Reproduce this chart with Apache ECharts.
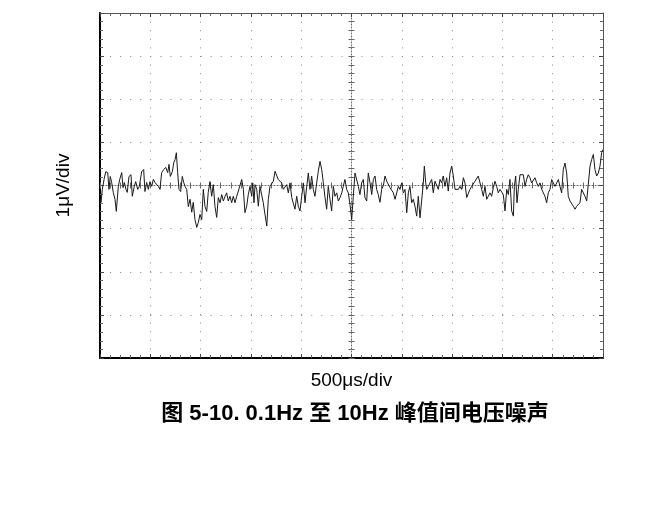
<!DOCTYPE html>
<html>
<head>
<meta charset="utf-8">
<script src="https://cdn.jsdelivr.net/npm/echarts@6/dist/echarts.min.js"></script>
<style>
html,body{margin:0;padding:0;background:#fff;}
#chart{width:663px;height:508px;}
</style>
</head>
<body>
<div id="chart"></div>
<script>
// Time (µs) of each sample, 500 µs per division
var timeUs = [5,10,23,40,57,77,89,102,116,132,149,162,182,196,216,229,242,258,271,288,308,321,341,355,375,391,414,434,447,464,480,497,514,530,547,564,580,596,613,633,653,673,686,699,719,733,746,759,772,785,802,818,832,845,862,878,895,912,927,944,962,977,994,1011,1027,1044,1061,1076,1093,1110,1126,1143,1160,1176,1193,1210,1226,
1243,1259,1275,1292,1309,1325,1342,1359,1375,1392,1409,1425,1441,1458,1474,1491,1508,1518,1531,1541,1558,1574,1590,1607,1623,1640,1658,1673,1690,1707,1723,1740,1756,1772,1789,1806,1822,1839,1856,1872,1889,1906,1922,1938,1955,1971,1988,2005,2021,2038,2055,2071,2087,2104,2120,2137,2154,2170,2187,2204,2220,2237,2253,2269,2286,2303,2319,2336,2353,2369,2386,2403,2418,2435,2452,2468,2485,2502,2518,2535,2552,2568,2584,2601,2617,2634,2651,2667,2684,2701,2717,2734,2750,2766,2783,2800,2817,2833,2850,2866,2883,2900,2916,2933,2950,2966,2982,2999,3015,3032,3049,3065,3081,3098,3114,3131,3148,3164,3181,3198,3214,3224,3238,3248,3263,3280,3297,3313,3330,3347,3363,3380,3396,3412,3429,3446,3462,3479,3496,3512,3529,3546,3562,3578,3595,3612,3628,3645,3661,3678,3695,3711,3728,3745,3760,3777,3794,3810,3827,3844,3860,3877,3893,3910,3926,3943,3959,3976,3993,4009,4026,4043,4059,4075,4092,4109,4119,4132,4145,4158,4175,4192,4208,4225,4241,4257,4274,4291,4307,4324,4341,4357,4374,4391,4406,4423,4440,4456,4473,4490,4506,4523,4540,4556,4572,4589,4605,4622,4639,4655,4672,4689,4705,4722,4739,4754,4771,4788,4804,4821,4838,4854,4871,4887,4904,4920,4937,4954,4970,4987,4997];
// Noise voltage (µV) of each sample, 1 µV per division
var noiseUv = [-0.32,-0.39,-0.09,0.14,0.32,0.30,-0.09,0.21,0.07,-0.16,-0.32,-0.60,-0.02,0.14,0.30,-0.05,0.07,-0.09,-0.16,0.21,0.25,-0.25,-0.02,0.09,-0.09,-0.02,0.32,0.37,-0.14,0.07,-0.09,0.09,-0.02,0.14,0.07,0.07,-0.02,-0.09,0.30,0.37,0.42,0.30,0.49,0.21,0.32,0.53,0.60,0.76,0.30,-0.09,-0.14,0.21,0.07,-0.02,-0.09,-0.49,-0.32,-0.62,-0.39,-0.79,-0.97,-0.86,-0.67,-0.79,-0.09,-0.49,-0.60,-0.16,0.09,-0.25,0.02,-0.49,-0.74,-0.28,-0.40,-0.21,-0.36,
-0.25,-0.17,-0.36,-0.25,-0.40,-0.25,-0.40,-0.25,-0.13,-0.09,0.14,-0.09,-0.63,-0.48,-0.21,-0.02,-0.25,0.06,-0.40,0.02,-0.09,-0.48,-0.02,-0.02,-0.40,-0.67,-0.94,-0.32,-0.02,-0.02,0.10,0.33,0.33,0.14,0.10,0.06,-0.09,-0.05,0.02,-0.17,0.06,-0.28,-0.25,-0.55,-0.25,-0.48,-0.59,-0.25,0.06,-0.40,-0.02,0.29,-0.09,0.22,-0.09,-0.25,0.06,0.33,0.56,0.37,0.06,-0.28,-0.55,-0.02,-0.32,-0.59,-0.02,-0.25,-0.17,-0.36,-0.28,-0.17,-0.02,0.14,-0.09,-0.17,-0.44,-0.79,-0.25,0.29,0.33,-0.02,-0.21,0.06,0.14,-0.28,-0.36,0.29,0.06,-0.21,0.14,0.22,-0.09,-0.21,-0.39,-0.09,0.00,0.22,0.10,0.06,-0.05,-0.09,-0.17,-0.32,-0.32,-0.02,-0.09,0.06,-0.17,-0.09,-0.63,-0.17,-0.02,-0.40,-0.32,-0.48,-0.71,-0.25,-0.75,-0.79,0.06,0.45,0.06,-0.09,-0.02,-0.05,0.14,-0.17,0.10,0.14,-0.09,0.14,0.06,0.22,-0.02,0.18,-0.13,0.29,0.45,0.22,-0.09,-0.05,-0.09,-0.02,-0.09,0.18,0.06,-0.28,-0.25,-0.09,-0.02,0.02,0.10,0.06,0.22,0.25,-0.09,-0.25,-0.02,-0.32,-0.36,-0.17,-0.25,-0.05,0.10,-0.02,-0.17,-0.09,-0.05,-0.21,-0.59,-0.09,-0.21,0.14,-0.59,-0.71,-0.02,0.22,-0.40,-0.09,0.25,0.29,0.25,-0.02,0.14,0.25,0.18,0.06,0.10,0.18,0.06,-0.02,0.06,-0.09,-0.05,-0.25,-0.40,-0.17,-0.09,0.14,0.18,-0.02,0.06,0.14,-0.02,-0.17,0.37,0.52,0.29,-0.25,-0.36,-0.40,-0.48,-0.55,-0.48,-0.48,-0.40,-0.09,-0.05,-0.25,-0.36,-0.40,0.45,0.60,0.72,0.37,0.22,0.29,0.45,0.76,0.83];

var xName = '500\u03bcs/div';
var yName = '1\u03bcV/div';
var titleText = '图 5-10. 0.1Hz 至 10Hz 峰值间电压噪声';

var FONT = '"Liberation Sans", Arial, "Noto Sans CJK SC", sans-serif';
var points = timeUs.map(function (t, i) { return [t, noiseUv[i]]; });

var chart = echarts.init(document.getElementById('chart'), null, {renderer: 'canvas'});

function borderAxis(extra) {
  var base = {
    type: 'value',
    axisLabel: {show: false},
    splitLine: {show: false},
    axisTick: {show: true, inside: true, length: 4, lineStyle: {color: '#444', width: 1}},
    minorTick: {show: true, splitNumber: 5, length: 3, lineStyle: {color: '#666', width: 1}},
    axisLine: {show: true, onZero: false, lineStyle: {color: '#555', width: 1}}
  };
  return Object.assign(base, extra);
}

chart.setOption({
  animation: false,
  backgroundColor: '#ffffff',
  title: {
    text: titleText,
    left: 350,
    textAlign: 'center',
    top: 398,
    textStyle: {fontFamily: FONT, fontSize: 22, fontWeight: 'bold', color: '#000'}
  },
  grid: {left: 100, top: 13, width: 503, height: 345, show: false},
  xAxis: [
    borderAxis({
      min: 0, max: 5000, interval: 500, position: 'bottom',
      name: xName, nameLocation: 'middle', nameGap: 13,
      nameTextStyle: {fontFamily: FONT, fontSize: 19, color: '#000'},
      axisLine: {show: true, onZero: false, lineStyle: {color: '#000', width: 2}},
      splitLine: {show: true, lineStyle: {color: '#888', width: 1, type: [1, 7.6]}}
    }),
    borderAxis({min: -2500, max: 2500, interval: 500, position: 'top'}),
    borderAxis({
      min: 0, max: 5000, interval: 500, position: 'bottom',
      axisLine: {show: true, onZero: true, onZeroAxisIndex: 0, lineStyle: {color: '#666', width: 1, type: [1, 2]}},
      axisTick: {show: true, inside: true, length: 3, lineStyle: {color: '#666'}},
      minorTick: {show: true, splitNumber: 5, length: 3, lineStyle: {color: '#666'}}
    }),
    borderAxis({
      min: 0, max: 5000, interval: 500, position: 'bottom',
      axisLine: {show: false, onZero: true, onZeroAxisIndex: 0},
      axisTick: {show: true, inside: false, length: 3, lineStyle: {color: '#666'}},
      minorTick: {show: true, splitNumber: 5, length: 3, lineStyle: {color: '#666'}}
    })
  ],
  yAxis: [
    borderAxis({
      min: -4, max: 4, interval: 1, position: 'left',
      name: yName, nameLocation: 'middle', nameGap: 27, nameRotate: 90,
      nameTextStyle: {fontFamily: FONT, fontSize: 19, color: '#000'},
      axisLine: {show: true, onZero: false, lineStyle: {color: '#000', width: 2}},
      splitLine: {show: true, lineStyle: {color: '#888', width: 1, type: [1, 9.06]}}
    }),
    borderAxis({min: -4, max: 4, interval: 1, position: 'right'}),
    borderAxis({
      min: -4, max: 4, interval: 1, position: 'left',
      axisLine: {show: true, onZero: true, onZeroAxisIndex: 1, lineStyle: {color: '#666', width: 1, type: [1, 2]}},
      axisTick: {show: true, inside: true, length: 3, lineStyle: {color: '#666'}},
      minorTick: {show: true, splitNumber: 5, length: 3, lineStyle: {color: '#666'}}
    }),
    borderAxis({
      min: -4, max: 4, interval: 1, position: 'left',
      axisLine: {show: false, onZero: true, onZeroAxisIndex: 1},
      axisTick: {show: true, inside: false, length: 3, lineStyle: {color: '#666'}},
      minorTick: {show: true, splitNumber: 5, length: 3, lineStyle: {color: '#666'}}
    })
  ],
  series: [{
    type: 'line',
    xAxisIndex: 0,
    yAxisIndex: 0,
    data: points,
    showSymbol: false,
    symbol: 'none',
    smooth: false,
    lineStyle: {color: '#1a1a1a', width: 1},
    z: 5
  }]
});
</script>
</body>
</html>
